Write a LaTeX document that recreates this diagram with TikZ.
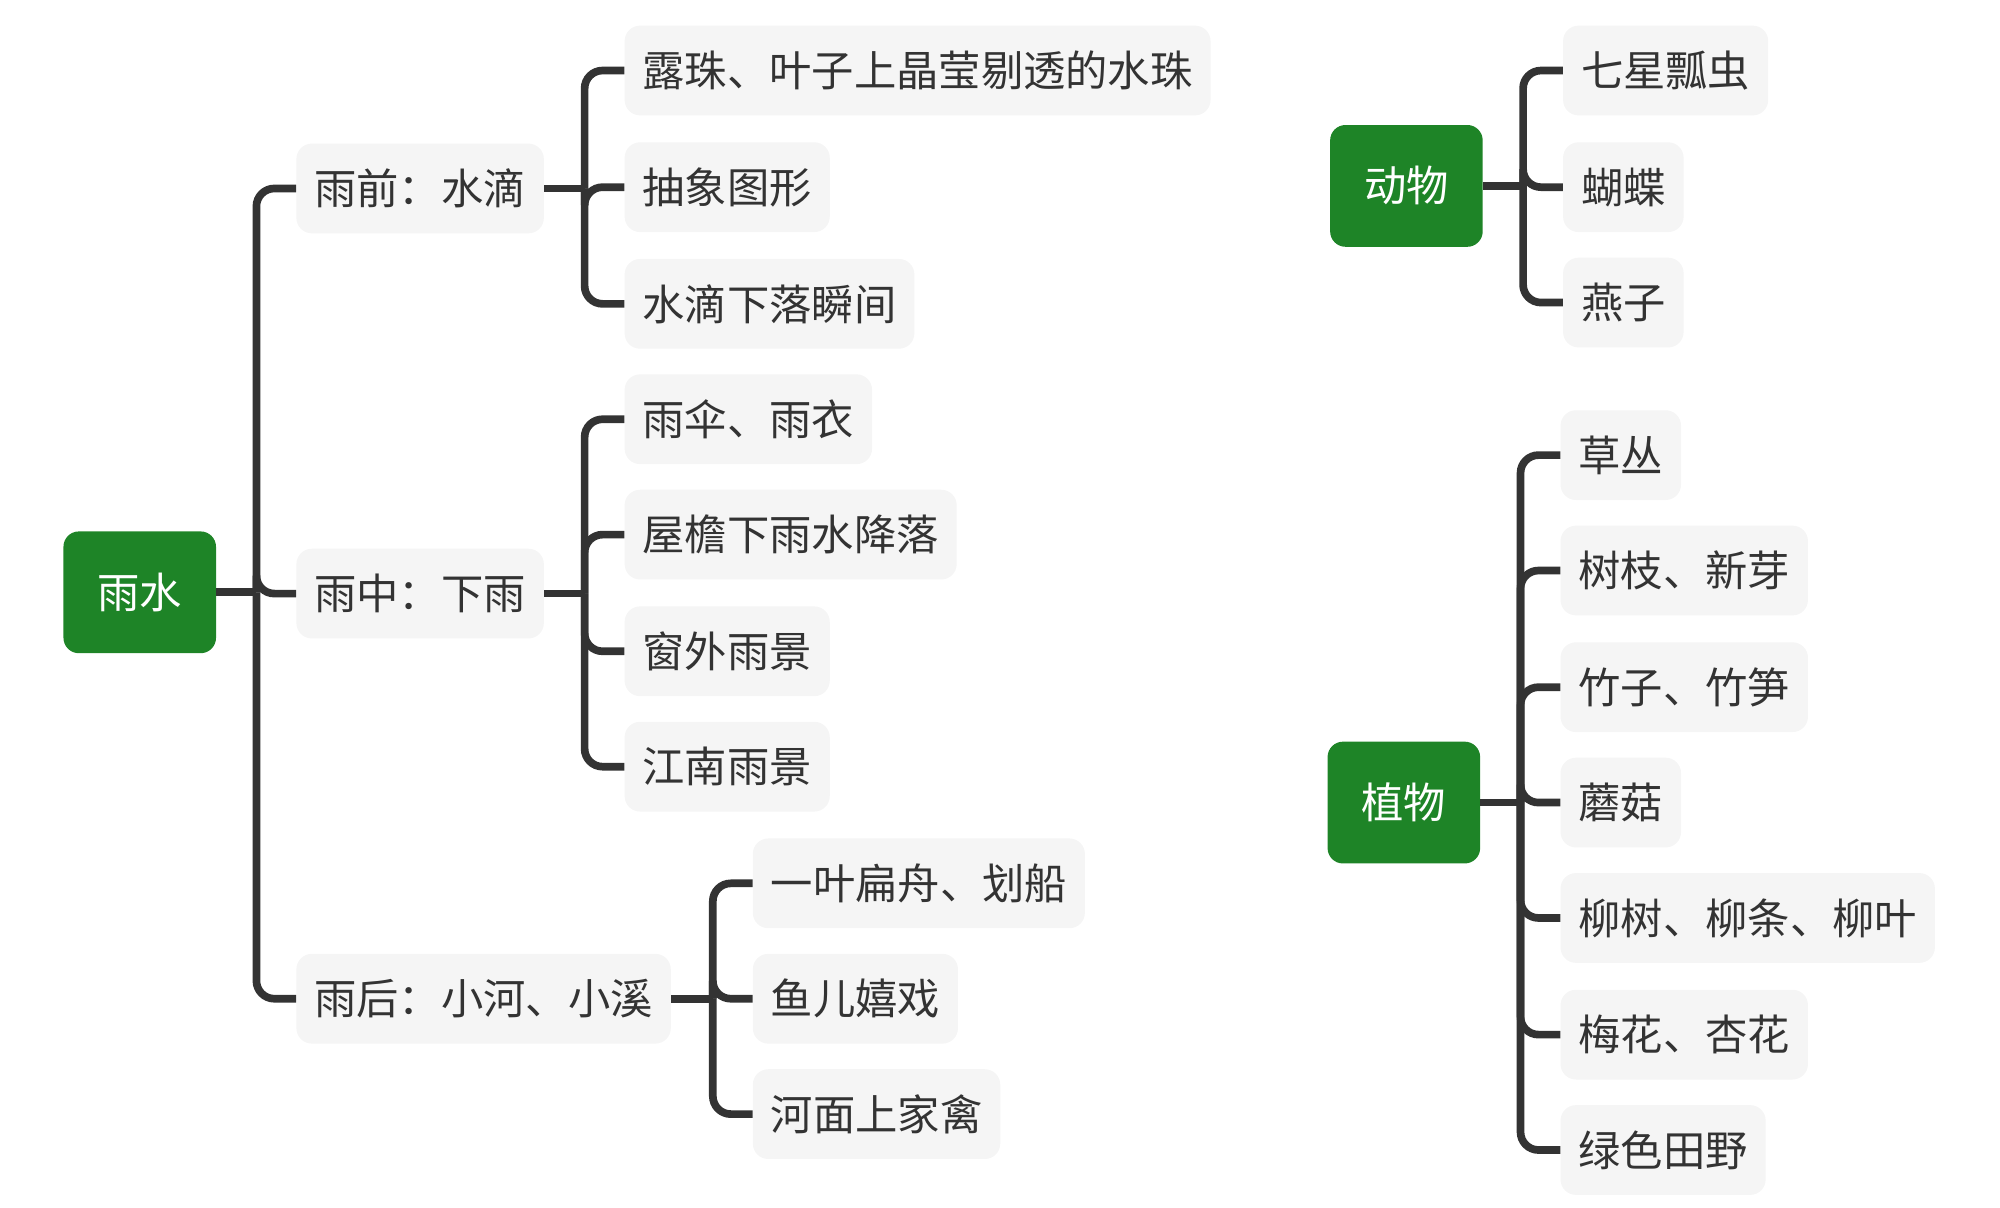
\documentclass[tikz,border=0pt]{standalone}
\usepackage{fontspec}
\setmainfont{Noto Sans CJK SC}
\usetikzlibrary{positioning}
\definecolor{rootgreen}{HTML}{1E8427}
\definecolor{leafgray}{HTML}{F5F5F5}
\definecolor{linegray}{HTML}{333333}
\tikzset{
    root/.style={rectangle, rounded corners=12pt, fill=rootgreen, text=white, minimum width=119pt, minimum height=95pt, font=\fontsize{33}{36}\selectfont},
    topic/.style={rectangle, rounded corners=12pt, fill=leafgray, text=linegray, anchor=west, inner xsep=14pt, minimum height=70pt, font=\fontsize{33}{36}\selectfont},
    branch/.style={draw=linegray, line width=6pt, rounded corners=14pt}
}
\begin{document}
\begin{tikzpicture}[x=1pt, y=-1pt]
    \useasboundingbox (0,0) rectangle (1560,942);
    % roots
    \node[root] (rain) at (109,462) {雨水};
    \node[root] (animal) at (1097,145) {动物};
    \node[root] (plant) at (1095,626) {植物};
    % first level
    \node[topic] (before) at (231,147) {雨前：水滴};
    \node[topic] (during) at (231,463) {雨中：下雨};
    \node[topic] (after) at (231,779) {雨后：小河、小溪};
    % leaves
    \node[topic] (b1) at (487,55) {露珠、叶子上晶莹剔透的水珠};
    \node[topic] (b2) at (487,146) {抽象图形};
    \node[topic] (b3) at (487,237) {水滴下落瞬间};
    \node[topic] (d1) at (487,327) {雨伞、雨衣};
    \node[topic] (d2) at (487,417) {屋檐下雨水降落};
    \node[topic] (d3) at (487,508) {窗外雨景};
    \node[topic] (d4) at (487,598) {江南雨景};
    \node[topic] (a1) at (587,689) {一叶扁舟、划船};
    \node[topic] (a2) at (587,779) {鱼儿嬉戏};
    \node[topic] (a3) at (587,869) {河面上家禽};
    \node[topic] (n1) at (1219,55) {七星瓢虫};
    \node[topic] (n2) at (1219,146) {蝴蝶};
    \node[topic] (n3) at (1219,236) {燕子};
    \node[topic] (p1) at (1217,355) {草丛};
    \node[topic] (p2) at (1217,445) {树枝、新芽};
    \node[topic] (p3) at (1217,536) {竹子、竹笋};
    \node[topic] (p4) at (1217,626) {蘑菇};
    \node[topic] (p5) at (1217,716) {柳树、柳条、柳叶};
    \node[topic] (p6) at (1217,807) {梅花、杏花};
    \node[topic] (p7) at (1217,897) {绿色田野};
    % branches
    \coordinate (rainS) at (200,462);
    \coordinate (beforeS) at (456,147);
    \coordinate (duringS) at (456,463);
    \coordinate (afterS) at (556,779);
    \coordinate (animalS) at (1188,145);
    \coordinate (plantS) at (1186,626);
    \draw[branch] (rain.east) -- (rainS);
    \draw[branch] (before.east) -- (beforeS);
    \draw[branch] (during.east) -- (duringS);
    \draw[branch] (after.east) -- (afterS);
    \draw[branch] (animal.east) -- (animalS);
    \draw[branch] (plant.east) -- (plantS);
    \foreach \c in {before,during,after}
        \draw[branch] (rainS) |- (\c.west);
    \foreach \c in {b1,b2,b3}
        \draw[branch] (beforeS) |- (\c.west);
    \foreach \c in {d1,d2,d3,d4}
        \draw[branch] (duringS) |- (\c.west);
    \foreach \c in {a1,a2,a3}
        \draw[branch] (afterS) |- (\c.west);
    \foreach \c in {n1,n2,n3}
        \draw[branch] (animalS) |- (\c.west);
    \foreach \c in {p1,p2,p3,p4,p5,p6,p7}
        \draw[branch] (plantS) |- (\c.west);
\end{tikzpicture}
\end{document}
